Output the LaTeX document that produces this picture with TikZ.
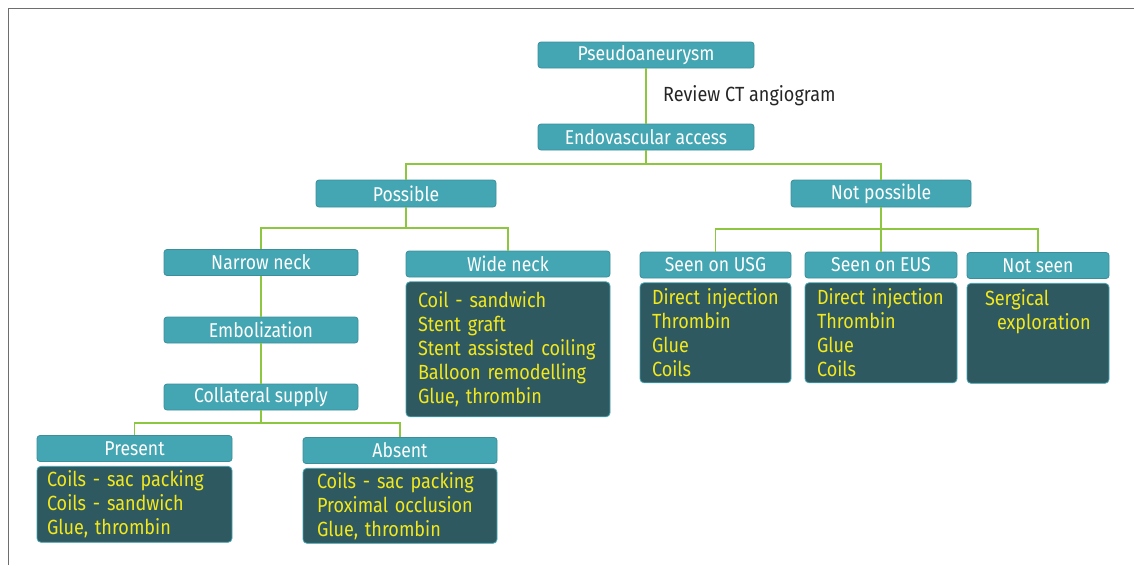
\documentclass[tikz,border=0pt]{standalone}
\usepackage{fontspec}
\setmainfont{Fira Sans}[FakeStretch=0.88]
\usepackage{tikz}
\usetikzlibrary{positioning}

\definecolor{headfill}{HTML}{44A6B3}
\definecolor{headline}{HTML}{3A8F9B}
\definecolor{leaffill}{HTML}{2F5960}
\definecolor{leaftext}{HTML}{F3E81C}
\definecolor{linkgreen}{HTML}{8DC63F}
\definecolor{framegray}{HTML}{6E6E6E}

\begin{document}
\begin{tikzpicture}[x=1pt,y=-1pt,
    head/.style={draw=headline,fill=headfill,rounded corners=3pt,line width=0.8pt,
      minimum height=26pt,inner sep=0pt,text=white,font=\fontsize{20}{22}\selectfont},
    leaf/.style={draw=headfill,fill=leaffill,rounded corners=4pt,line width=0.8pt,
      below=4pt of #1,anchor=north,inner xsep=10pt,inner ysep=0pt,align=left,
      text=leaftext,font=\fontsize{20.5}{24}\selectfont},
    link/.style={draw=linkgreen,line width=1.6pt}]
      \useasboundingbox (0,0) rectangle (1134,565);
      \draw[framegray,line width=1.5pt] (8.5,565) -- (8.5,8.5) -- (1134,8.5);

      % top
      \node[head,minimum width=216pt] (pa) at (646,55) {Pseudoaneurysm};
      \node[head,minimum width=216pt] (ea) at (646,137) {Endovascular access};
      \node[anchor=west,inner sep=0pt,text=black!85,font=\fontsize{20.5}{22}\selectfont] (ct) at (663,96) {Review CT angiogram};
      \node[head,minimum width=180pt,minimum height=27pt] (pos) at (406,193.5) {Possible};
      \node[head,minimum width=180pt,minimum height=27pt] (np)  at (881,193.5) {Not possible};

      % possible
      \node[head,minimum width=194pt] (nn) at (261,262.5) {Narrow neck};
      \node[head,minimum width=204pt] (wn) at (508,264) {Wide neck};
      \node[head,minimum width=194pt] (em) at (261,330) {Embolization};
      \node[head,minimum width=194pt] (cs) at (261,397) {Collateral supply};
      \node[head,minimum width=195pt] (pr) at (134.5,448.5) {Present};
      \node[head,minimum width=194pt] (ab) at (400,450.5) {Absent};

      \node[leaf=wn,minimum width=204pt,minimum height=135pt,inner xsep=12pt,text width=180pt] (wnd)
        {Coil - sandwich\\Stent graft\\Stent assisted coiling\\Balloon remodelling\\Glue, thrombin};
      \node[leaf=pr,minimum width=195pt,minimum height=76pt,text width=175pt] (prd)
        {Coils - sac packing\\Coils - sandwich\\Glue, thrombin};
      \node[leaf=ab,minimum width=194pt,minimum height=75pt,inner xsep=14pt,text width=166pt] (abd)
        {Coils - sac packing\\Proximal occlusion\\Glue, thrombin};

      % not possible
      \node[head,minimum width=151pt] (usg) at (715.5,265) {Seen on USG};
      \node[head,minimum width=152pt] (eus) at (881,265) {Seen on EUS};
      \node[head,minimum width=142pt] (ns)  at (1038,265.5) {Not seen};

      \node[leaf=usg,minimum width=151pt,minimum height=100pt,inner xsep=12pt,text width=127pt] (usgd)
        {Direct injection\\Thrombin\\Glue\\Coils};
      \node[leaf=eus,minimum width=152pt,minimum height=100pt,inner xsep=12pt,text width=128pt] (eusd)
        {Direct injection\\Thrombin\\Glue\\Coils};
      \node[leaf=ns,minimum width=142pt,minimum height=100pt,inner xsep=18pt,text width=106pt] (nsd)
        {Sergical\\\hspace*{12pt}exploration\\\mbox{}\\\mbox{}};

      % connectors
      \coordinate (j1) at (646,164);
      \coordinate (j2) at (406,228);
      \coordinate (j3) at (881,229);
      \coordinate (j4) at (261,423);
      \path[link]
      (pa) -- (ea)
      (ea) -- (j1) -| (pos)
      (j1) -| (np)
      (pos) -- (j2) -| (nn)
      (j2) -| (wn)
      (nn) -- (em)
      (em) -- (cs)
      (cs) -- (j4) -| (pr)
      (j4) -| (ab)
      (np) -- (j3) -| (usg)
      (j3) -- (eus)
      (j3) -| (ns)
      ;
\end{tikzpicture}
\end{document}
